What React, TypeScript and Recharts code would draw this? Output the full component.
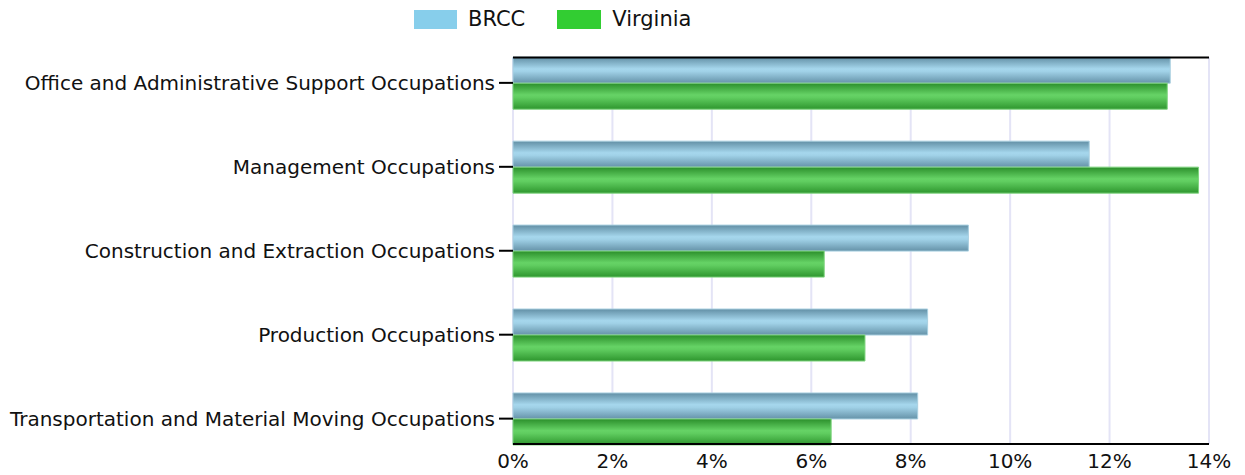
import React from "react";
import { Bar, BarChart, CartesianGrid, XAxis, YAxis } from "recharts";

const categories = [
  "Office and Administrative Support Occupations",
  "Management Occupations",
  "Construction and Extraction Occupations",
  "Production Occupations",
  "Transportation and Material Moving Occupations",
];
const brcc = [13.22, 11.59, 9.16, 8.34, 8.14];
const virginia = [13.16, 13.79, 6.26, 7.08, 6.4];
const xTicks = [0, 2, 4, 6, 8, 10, 12, 14];

const data = categories.map((name, i) => ({
  name,
  brcc: brcc[i],
  virginia: virginia[i],
}));

const font = "'DejaVu Sans', Verdana, sans-serif";

const LegendBox = () => (
  <div
    style={{
      position: "absolute",
      left: 414,
      top: 7,
      display: "flex",
      alignItems: "center",
      fontFamily: font,
      fontSize: 21,
      color: "#111",
      whiteSpace: "nowrap",
    }}
  >
    <span style={{ width: 43, height: 19, background: "#87ceeb", display: "inline-block" }} />
    <span style={{ marginLeft: 11, marginRight: 32 }}>BRCC</span>
    <span style={{ width: 44, height: 19, background: "#32cd32", display: "inline-block" }} />
    <span style={{ marginLeft: 11 }}>Virginia</span>
  </div>
);

export default function App() {
  return (
    <div style={{ position: "absolute", left: 0, top: 0, width: 1245, height: 475, background: "#fff" }}>
      <BarChart
        width={1245}
        height={475}
        data={data}
        layout="vertical"
        margin={{ top: 56.5, right: 36, bottom: 0, left: 0 }}
        barCategoryGap={16.3}
        barGap={0}
      >
        <defs>
          <linearGradient id="gBrcc" x1="0" y1="0" x2="0" y2="1">
            <stop offset="0" stopColor="#628fa5" />
            <stop offset="0.45" stopColor="#a6d7ed" />
            <stop offset="0.55" stopColor="#a0d1e7" />
            <stop offset="1" stopColor="#6592a8" />
          </linearGradient>
          <linearGradient id="gVa" x1="0" y1="0" x2="0" y2="1">
            <stop offset="0" stopColor="#2b8f2b" />
            <stop offset="0.45" stopColor="#66d366" />
            <stop offset="0.55" stopColor="#60cd60" />
            <stop offset="1" stopColor="#2e962e" />
          </linearGradient>
        </defs>
        <CartesianGrid horizontal={false} stroke="#e4e4f6" strokeWidth={2} />
        <XAxis
          type="number"
          domain={[0, 14]}
          ticks={xTicks}
          tickFormatter={(v: number) => `${v}%`}
          height={31}
          tickLine={false}
          axisLine={{ stroke: "#000", strokeWidth: 2 }}
          tick={{ fontSize: 20, fontFamily: font, fill: "#111" }}
          tickMargin={4}
        />
        <XAxis
          xAxisId="top"
          orientation="top"
          type="number"
          domain={[0, 14]}
          height={1}
          tick={false}
          tickLine={false}
          axisLine={{ stroke: "#000", strokeWidth: 2 }}
        />
        <YAxis
          type="category"
          dataKey="name"
          width={513}
          padding={{ top: -16.6, bottom: -16.6 }}
          axisLine={false}
          tickSize={14}
          tickMargin={4}
          tickLine={{ stroke: "#000", strokeWidth: 2 }}
          tick={{ fontSize: 20, fontFamily: font, fill: "#111" }}
        />
        <YAxis
          yAxisId="right"
          orientation="right"
          type="category"
          dataKey="name"
          width={0}
          tick={false}
          tickLine={false}
          axisLine={{ stroke: "#8a8a99", strokeWidth: 2 }}
        />
        <Bar
          dataKey="brcc"
          name="BRCC"
          fill="url(#gBrcc)"
          stroke="#a8cfe0"
          strokeWidth={1}
          isAnimationActive={false}
        />
        <Bar
          dataKey="virginia"
          name="Virginia"
          fill="url(#gVa)"
          stroke="#7fd47f"
          strokeWidth={1}
          isAnimationActive={false}
        />
      </BarChart>
      <LegendBox />
    </div>
  );
}
